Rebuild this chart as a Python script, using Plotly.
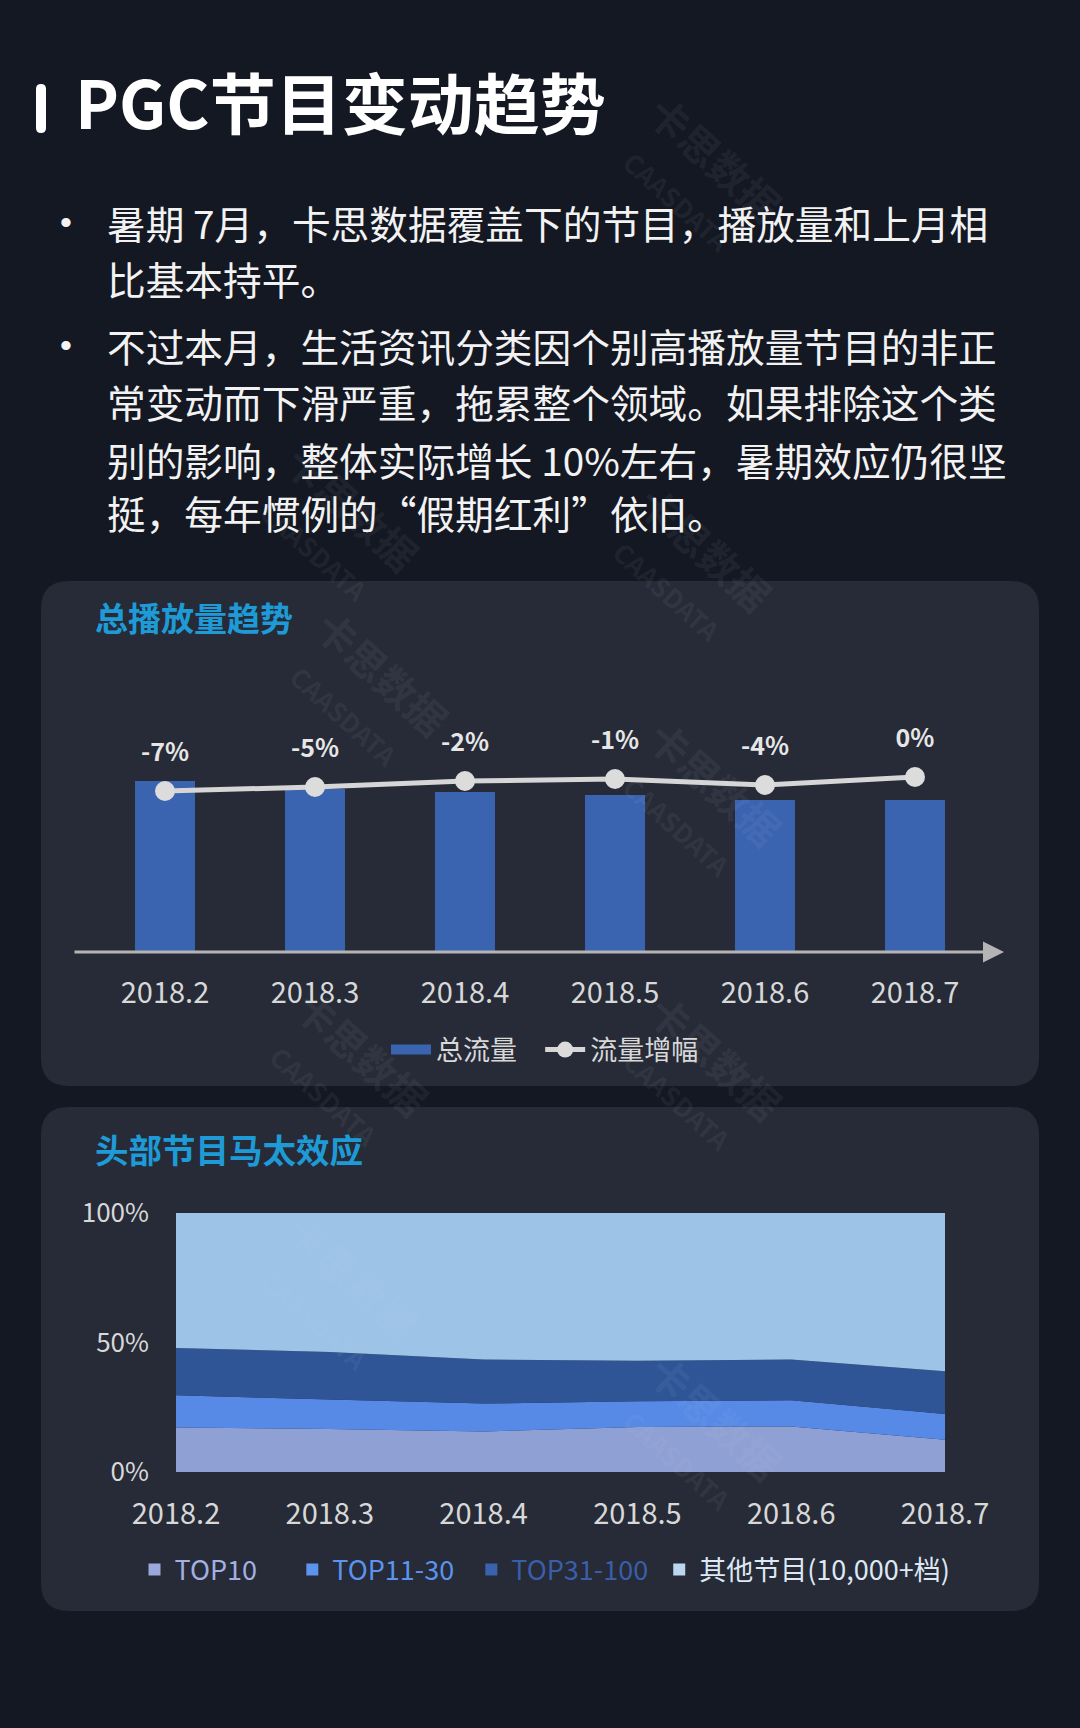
import plotly.graph_objects as go

W, H = 1080, 1728

# ---- data ----
months = ["2018.2", "2018.3", "2018.4", "2018.5", "2018.6", "2018.7"]
total_flow = [171, 163, 160, 157, 152, 152]
flow_growth = [-7, -5, -2, -1, -4, 0]
growth_labels = ["-7%", "-5%", "-2%", "-1%", "-4%", "0%"]

top10 = [17.2, 16.6, 15.6, 17.4, 17.6, 12.5]
top11_30 = [12.4, 11.3, 10.8, 9.9, 10.1, 9.9]
top31_100 = [18.3, 18.4, 17.0, 15.7, 15.7, 16.5]
others = [52.1, 53.7, 56.6, 57.0, 56.6, 61.1]
share_ticks = [0, 50, 100]
share_tick_labels = ["0%", "50%", "100%"]

page_title = "PGC节目变动趋势"
bullet_lines = [
    ["暑期 7月，卡思数据覆盖下的节目，播放量和上月相", "比基本持平。"],
    ["不过本月，生活资讯分类因个别高播放量节目的非正",
     "常变动而下滑严重，拖累整个领域。如果排除这个类",
     "别的影响，整体实际增长 10%左右，暑期效应仍很坚",
     "挺，每年惯例的“假期红利”依旧。"],
]
chart1_title = "总播放量趋势"
chart2_title = "头部节目马太效应"

FONT = "Noto Sans CJK SC"
BG = "#141823"
PANEL = "#262b37"
BAR = "#3a63b0"
LINE = "#d6d6d6"
TICK = "#d8d8d8"
C_TOP10, C_TOP11, C_TOP31, C_OTHER = "#8fa0d4", "#568ae6", "#2f5597", "#9dc3e6"
NB = "\u00a0"


def px(x):
    return x / W


def py(y):
    return 1 - y / H


def rounded_rect(x0, y0, x1, y1, r):
    # path in paper coordinates from pixel box
    rx, ry = r / W, r / H
    X0, X1, Y0, Y1 = px(x0), px(x1), py(y0), py(y1)
    return (f"M{X0 + rx},{Y0} L{X1 - rx},{Y0} Q{X1},{Y0} {X1},{Y0 - ry} "
            f"L{X1},{Y1 + ry} Q{X1},{Y1} {X1 - rx},{Y1} L{X0 + rx},{Y1} "
            f"Q{X0},{Y1} {X0},{Y1 + ry} L{X0},{Y0 - ry} Q{X0},{Y0} {X0 + rx},{Y0} Z")


fig = go.Figure()

# ---- chart 1: bars + growth line ----
fig.add_trace(go.Bar(x=months, y=total_flow, marker=dict(color=BAR, line=dict(width=0)),
                     width=0.4, name="总流量", showlegend=False, hoverinfo="skip",
                     xaxis="x", yaxis="y"))
fig.add_trace(go.Scatter(x=[None], y=[None], mode="lines", name="总流量" + NB * 3,
                         line=dict(color=BAR, width=18), legend="legend",
                         xaxis="x", yaxis="y"))
fig.add_trace(go.Scatter(x=months, y=flow_growth, mode="lines+markers", name="流量增幅",
                         line=dict(color=LINE, width=5),
                         marker=dict(color="#dcdcdc", size=20), legend="legend",
                         xaxis="x", yaxis="y2"))
# growth labels above the markers
fig.add_trace(go.Scatter(x=months, y=flow_growth, mode="text+markers", text=growth_labels,
                         textposition="top center", showlegend=False, hoverinfo="skip",
                         marker=dict(size=36, color="rgba(0,0,0,0)"),
                         textfont=dict(family=FONT, size=25, color="#e6e6e6", weight="bold"),
                         xaxis="x", yaxis="y2"))

# ---- chart 2: stacked share areas ----
for name, vals, col in [("TOP10", top10, C_TOP10), ("TOP11-30", top11_30, C_TOP11),
                        ("TOP31-100", top31_100, C_TOP31), ("其他节目(10,000+档)", others, C_OTHER)]:
    fig.add_trace(go.Scatter(x=months, y=vals, stackgroup="share", mode="lines",
                             line=dict(width=0, color=col), fillcolor=col,
                             name=name, showlegend=False, xaxis="x2", yaxis="y3"))

legend2_items = [("TOP10", "#9aa8de", "#a3b0e2", 5), ("TOP11-30", "#5b93ee", "#5b93ee", 2),
                 ("TOP31-100", "#3a62ad", "#3a5ea8", 1), ("其他节目(10,000+档)", "#bcd6f0", "#dde8f4", 0)]
for name, sym, txt, pad in legend2_items:
    fig.add_trace(go.Scatter(x=[None], y=[None], mode="markers",
                             marker=dict(symbol="square", size=12, color=sym),
                             name=f"<span style='color:{txt}'>{name}</span>" + NB * pad,
                             legend="legend2", xaxis="x2", yaxis="y3"))

# ---- panels and decorations ----
shapes = [
    dict(type="path", xref="paper", yref="paper", path=rounded_rect(41, 581, 1039, 1086, 28),
         fillcolor=PANEL, line=dict(width=0), layer="below"),
    dict(type="path", xref="paper", yref="paper", path=rounded_rect(41, 1107, 1039, 1611, 28),
         fillcolor=PANEL, line=dict(width=0), layer="below"),
    dict(type="path", xref="paper", yref="paper", path=rounded_rect(36, 84, 46, 133, 5),
         fillcolor="#ffffff", line=dict(width=0)),
]

annotations = [
    dict(text=page_title, x=px(73), y=py(100), xref="paper", yref="paper",
         xanchor="left", yanchor="middle", showarrow=False,
         font=dict(family=FONT, size=66, color="#ffffff", weight="bold")),
    dict(text=chart1_title, x=px(93), y=py(617), xref="paper", yref="paper",
         xanchor="left", yanchor="middle", showarrow=False,
         font=dict(family=FONT, size=33, color="#1e9bd7", weight="bold")),
    dict(text=chart2_title, x=px(93), y=py(1148), xref="paper", yref="paper",
         xanchor="left", yanchor="middle", showarrow=False,
         font=dict(family=FONT, size=33.5, color="#1e9bd7", weight="bold")),
    # x axis line with arrow head for chart 1
    dict(x=px(1004), y=py(952), xref="paper", yref="paper", ax=-931, ay=0,
         showarrow=True, arrowhead=2, arrowsize=1.4, arrowwidth=3, arrowcolor="#b4b4b4",
         text=""),
]

line_y = [[222, 278], [345, 401, 459, 512]]
for lines, ys in zip(bullet_lines, line_y):
    annotations.append(dict(text="•", x=px(66), y=py(ys[0]), xref="paper", yref="paper",
                            xanchor="center", yanchor="middle", showarrow=False,
                            font=dict(family="Liberation Sans", size=34, color="#f2f2f2")))
    for t, yy in zip(lines, ys):
        annotations.append(dict(text=t, x=px(105), y=py(yy), xref="paper", yref="paper",
                                xanchor="left", yanchor="middle", showarrow=False,
                                font=dict(family=FONT, size=38.7, color="#f2f2f2")))

# faint watermark
for wx, wy in [(700, 80), (240, 430), (690, 470), (270, 690), (700, 800),
               (250, 1070), (700, 1170), (240, 1390), (700, 1530)]:
    annotations.append(dict(text="卡思数据<br><span style='font-size:26px'>CAASDATA</span>",
                            x=px(wx), y=py(wy), xref="paper", yref="paper", showarrow=False,
                            textangle=42, font=dict(family=FONT, size=40, color="rgba(210,215,225,0.08)",
                                                    weight="bold")))

fig.update_layout(
    template="none",
    width=W, height=H,
    margin=dict(l=0, r=0, t=0, b=0, pad=0, autoexpand=False),
    paper_bgcolor=BG, plot_bgcolor="rgba(0,0,0,0)",
    font=dict(family=FONT, color=TICK),
    shapes=shapes, annotations=annotations,
    hovermode=False,
    xaxis=dict(domain=[px(90), px(990)], range=[-0.5, 5.5], type="category",
               showgrid=False, zeroline=False, showline=False, ticks="",
               tickfont=dict(size=29, color=TICK), ticklabelstandoff=21,
               anchor="y", automargin=False),
    yaxis=dict(domain=[py(952), py(700)], range=[0, 252], visible=False, anchor="x"),
    yaxis2=dict(domain=[py(952), py(700)], range=[-87.5, 38.5], visible=False,
                overlaying="y", anchor="x"),
    xaxis2=dict(domain=[px(176), px(945)], range=[0, 5], type="category",
                showgrid=False, zeroline=False, showline=False, ticks="",
                tickfont=dict(size=29, color=TICK), ticklabelstandoff=22,
                anchor="y3", automargin=False),
    yaxis3=dict(domain=[py(1472), py(1213)], range=[0, 100], tickvals=share_ticks,
                ticktext=share_tick_labels, showgrid=False, zeroline=False,
                showline=False, ticks="", tickfont=dict(size=26, color=TICK),
                ticklabelstandoff=26, anchor="x2", automargin=False),
    legend=dict(orientation="h", x=px(545), y=py(1050), xanchor="center", yanchor="middle",
                font=dict(size=27, color=TICK), bgcolor="rgba(0,0,0,0)", itemwidth=40,
                traceorder="normal"),
    legend2=dict(orientation="h", x=px(545), y=py(1570), xanchor="center", yanchor="middle",
                 font=dict(size=27, color=TICK), bgcolor="rgba(0,0,0,0)", itemwidth=30,
                 traceorder="normal"),
)

fig.write_html("out.html", config={"displayModeBar": False},
               post_script="document.body.style.margin='0';")
